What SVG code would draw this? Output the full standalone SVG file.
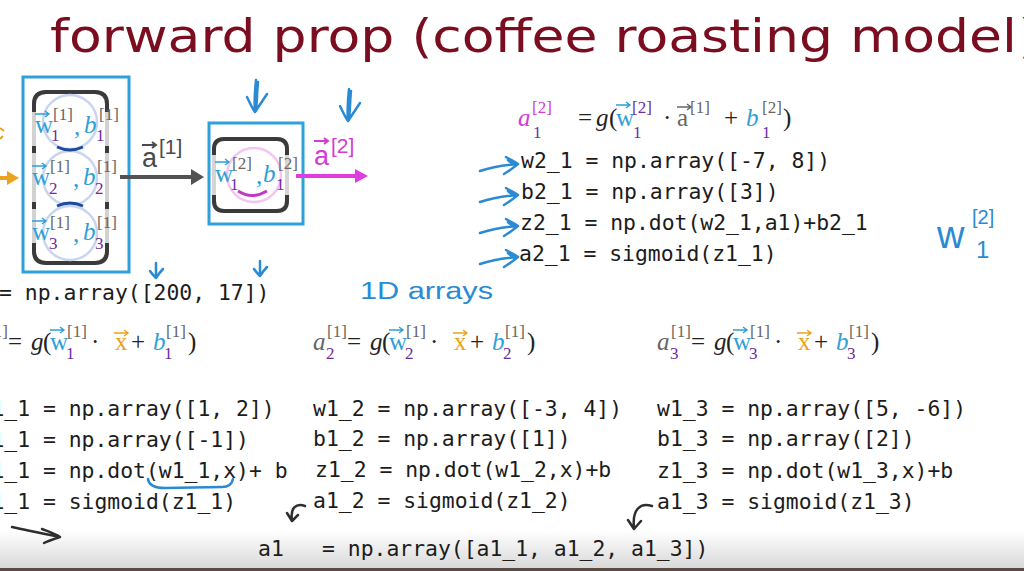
<svg xmlns="http://www.w3.org/2000/svg" xmlns:xlink="http://www.w3.org/1999/xlink" width="1024" height="571" viewBox="0 0 1024 571">
<style>
.code{font-family:"DejaVu Sans Mono","Liberation Mono",monospace;font-size:21.4px;fill:#1c1c1c}
.m{font-family:"Liberation Serif",serif;font-size:25px;fill:#222}
.it{font-style:italic}
.sup{font-family:"Liberation Serif",serif;font-size:17px}
.blue{fill:#2f9fd8}
.purple{fill:#6b2d9e}
.gray{fill:#666}
.mag{fill:#d23cd2}
.orange{fill:#eba21c}
.hand{fill:none;stroke:#2a8ad4;stroke-width:2.5;stroke-linecap:round;stroke-linejoin:round}
.ink{fill:none;stroke:#2e2e2e;stroke-width:2.5;stroke-linecap:round;stroke-linejoin:round}
.box{fill:none;stroke:#2ea0da;stroke-width:3}
.dark{fill:none;stroke:#3a3a3a;stroke-width:4}
.vb{fill:none;stroke:#2f9fd8;stroke-width:1.4}
.vo{fill:none;stroke:#eba21c;stroke-width:1.4}
.vg{fill:none;stroke:#666;stroke-width:1.4}
.vm{fill:none;stroke:#d23cd2;stroke-width:2}
.vd{fill:none;stroke:#4a4a4a;stroke-width:2}
.sans{font-family:"Liberation Sans",sans-serif}
</style>
<defs>
<path id="va" d="M0 0 H14 M10 -3 L14 0 L10 3"/>
<path id="harrow" d="M0 8 C12 4 24 2 38 1 M26 -6 C31 -3 35 -1 38 1 C33 5 29 8 24 11 M28 -3 C31 0 33 1 35 2"/>
<path id="check" d="M9 0 C8 10 7 22 8 32 M11 2 C10 12 10 22 9 31 M0 17 C3 23 5 28 8 32 C12 26 16 20 20 14"/>
<path id="smalldown" d="M8 0 C8 5 8 10 8 15 M2 8 C4 11 6 13 8 15 C10 12 12 9 15 6"/>
<marker id="ah-gray" markerUnits="userSpaceOnUse" markerWidth="13" markerHeight="16" refX="1" refY="8" orient="auto" viewBox="0 0 13 16"><path d="M0 0 L13 8 L0 16 z" fill="#525252"/></marker>
<marker id="ah-mag" markerUnits="userSpaceOnUse" markerWidth="13" markerHeight="14" refX="1" refY="7" orient="auto" viewBox="0 0 13 14"><path d="M0 0 L13 7 L0 14 z" fill="#e03ce0"/></marker>
<marker id="ah-or" markerUnits="userSpaceOnUse" markerWidth="12" markerHeight="14" refX="1" refY="7" orient="auto" viewBox="0 0 12 14"><path d="M0 0 L12 7 L0 14 z" fill="#eba21c"/></marker>
<linearGradient id="band" x1="0" y1="0" x2="0" y2="1"><stop offset="0" stop-color="#ffffff"/><stop offset="1" stop-color="#d6d6d6"/></linearGradient>
</defs>
<rect width="1024" height="571" fill="#ffffff"/>
<rect x="0" y="530" width="1024" height="41" fill="url(#band)"/>
<rect x="0" y="568" width="1024" height="3" fill="#5b4b45"/>

<g id="title">
<text x="50" y="52" font-family="DejaVu Sans, sans-serif" font-size="47" fill="#7a0d1f" textLength="967" lengthAdjust="spacingAndGlyphs">forward prop (coffee roasting model</text>
<text x="1019" y="52" font-family="DejaVu Sans, sans-serif" font-size="47" fill="#7a0d1f">)</text>
</g>

<g id="layer1">
<rect x="23" y="77" width="106" height="195" class="box"/>
<rect x="34" y="92" width="73" height="171" rx="12" fill="none" stroke="#d2d2d2" stroke-width="4"/>
<path class="dark" d="M34 112 V104 Q34 92 46 92 H95 Q107 92 107 104 V112"/>
<path class="dark" d="M34 243 V251 Q34 263 46 263 H95 Q107 263 107 251 V243"/>
<path class="dark" d="M34 146 V153 M107 146 V153 M34 202 V209 M107 202 V209"/>
<circle cx="70" cy="122" r="27" fill="none" stroke="#c9d5ef" stroke-width="2.5"/>
<circle cx="70" cy="178" r="27" fill="none" stroke="#c9d5ef" stroke-width="2.5"/>
<circle cx="70" cy="233" r="27" fill="none" stroke="#c9d5ef" stroke-width="2.5"/>
<path d="M57 147 Q70 153 83 147" fill="none" stroke="#1d4aa0" stroke-width="3"/>
<path d="M57 206 Q70 200 83 206" fill="none" stroke="#1d4aa0" stroke-width="3"/>
<text class="m blue" x="35" y="133">w</text><use href="#va" x="35" y="114" class="vb"/>
<text class="sup gray" x="53" y="120">[1]</text><text class="sup purple" x="51" y="141">1</text>
<text class="m blue" x="74" y="135">,</text><text class="m it blue" x="84" y="133">b</text>
<text class="sup gray" x="99" y="120">[1]</text><text class="sup purple" x="96" y="141">1</text>
<text class="m blue" x="32" y="185">w</text><use href="#va" x="32" y="166" class="vb"/>
<text class="sup gray" x="50" y="172">[1]</text><text class="sup purple" x="49" y="194">2</text>
<text class="m blue" x="73" y="187">,</text><text class="m it blue" x="83" y="185">b</text>
<text class="sup gray" x="97" y="172">[1]</text><text class="sup purple" x="95" y="194">2</text>
<text class="m blue" x="32" y="240">w</text><use href="#va" x="32" y="221" class="vb"/>
<text class="sup gray" x="50" y="228">[1]</text><text class="sup purple" x="49" y="249">3</text>
<text class="m blue" x="73" y="242">,</text><text class="m it blue" x="83" y="240">b</text>
<text class="sup gray" x="97" y="228">[1]</text><text class="sup purple" x="95" y="249">3</text>
</g>

<g id="layer2">
<rect x="209" y="123" width="94" height="101" class="box"/>
<rect x="214" y="139" width="73" height="72" rx="10" fill="none" stroke="#d5d5d5" stroke-width="4"/>
<path class="dark" d="M214 155 V149 Q214 139 224 139 H277 Q287 139 287 149 V155"/>
<path class="dark" d="M214 195 V201 Q214 211 224 211 H277 Q287 211 287 201 V195"/>
<circle cx="254" cy="175" r="27" fill="none" stroke="#f2c6f0" stroke-width="2.5"/>
<path d="M238 191 Q252 200 267 191" fill="none" stroke="#c238c8" stroke-width="3"/>
<text class="m blue" x="215" y="182">w</text><use href="#va" x="215" y="162" class="vb"/>
<text class="sup gray" x="232" y="169">[2]</text><text class="sup purple" x="230" y="190">1</text>
<text class="m blue" x="256" y="184">,</text><text class="m it blue" x="263" y="182">b</text>
<text class="sup gray" x="278" y="169">[2]</text><text class="sup purple" x="276" y="190">1</text>
</g>

<g id="connectors">
<line x1="-2" y1="178" x2="8" y2="178" stroke="#eba21c" stroke-width="4" marker-end="url(#ah-or)"/>
<line x1="120" y1="177" x2="192" y2="177" stroke="#525252" stroke-width="4" marker-end="url(#ah-gray)"/>
<line x1="296" y1="176" x2="356" y2="176" stroke="#e03ce0" stroke-width="4" marker-end="url(#ah-mag)"/>
<text class="sans" x="142" y="167" font-size="27" fill="#4a4a4a">a</text><use href="#va" x="142" y="145" class="vd"/>
<text class="sans" x="159" y="154" font-size="21" fill="#4a4a4a">[1]</text>
<text class="sans" x="314" y="165" font-size="27" fill="#d23cd2">a</text><use href="#va" x="314" y="141" class="vm"/>
<text class="sans" x="331" y="153" font-size="21" fill="#d23cd2">[2]</text>
<path d="M0 128 L4 131 M0 139 L3 136" stroke="#eba21c" stroke-width="2" fill="none"/>
</g>

<g id="annotations">
<use href="#check" x="247" y="80" class="hand"/>
<use href="#check" x="340" y="89" class="hand"/>
<use href="#smalldown" x="148" y="263" class="hand"/>
<use href="#smalldown" x="252" y="261" class="hand"/>
<use href="#harrow" x="480" y="163" class="hand"/>
<use href="#harrow" x="480" y="194" class="hand"/>
<use href="#harrow" x="480" y="225" class="hand"/>
<use href="#harrow" x="480" y="256" class="hand"/>
<path class="hand" d="M148 479 C149 486 155 488 165 488 L222 487 C229 487 232 484 233 479"/>
<text class="sans" x="360" y="299" font-size="23" fill="#2a8ad4" textLength="133" lengthAdjust="spacingAndGlyphs">1D arrays</text>
<text class="sans" x="937" y="248" font-size="38" fill="#2a8ad4">w</text>
<text class="sans" x="976" y="258" font-size="24" fill="#2a8ad4">1</text>
<text class="sans" x="972" y="224" font-size="20" fill="#2a8ad4">[2]</text>
<path class="ink" d="M12 527 C25 530 40 533 60 537 M42 529 C50 532 56 534 60 537 C54 539 48 541 44 543"/>
<path class="ink" d="M305 506 C296 503 290 508 292 520 M287 513 L292 521 L298 515"/>
<path class="ink" d="M652 506 C640 502 632 510 634 528 M628 520 L634 529 L641 521"/>
</g>

<g id="eq-layer2">
<text class="m it mag" x="518" y="126" font-size="26">a</text>
<text class="sup mag" x="532" y="113">[2]</text><text class="sup purple" x="533" y="138">1</text>
<text class="m" x="578" y="126">=</text>
<text class="m it" x="596" y="126">g</text>
<text class="m" x="609" y="126">(</text>
<text class="m blue" x="616" y="126">w</text><use href="#va" x="616" y="105" class="vb"/>
<text class="sup purple" x="632" y="113">[2]</text><text class="sup purple" x="633" y="138">1</text>
<text class="m" x="663" y="126">·</text>
<text class="m gray" x="677" y="126">a</text><use href="#va" x="677" y="107" class="vg"/>
<text class="sup gray" x="690" y="113">[1]</text>
<text class="m" x="724" y="126">+</text>
<text class="m it blue" x="746" y="126">b</text>
<text class="sup gray" x="762" y="113">[2]</text><text class="sup purple" x="762" y="138">1</text>
<text class="m" x="783" y="126">)</text>
</g>

<g id="code-layer2" class="code">
<text x="521" y="168">w2_1 = np.array([-7, 8])</text>
<text x="521" y="199">b2_1 = np.array([3])</text>
<text x="520" y="230">z2_1 = np.dot(w2_1,a1)+b2_1</text>
<text x="519" y="261">a2_1 = sigmoid(z1_1)</text>
</g>

<text class="code" x="-1" y="300">= np.array([200, 17])</text>

<g id="eq-col1" transform="translate(-26,0)">
<text class="m it gray" x="0" y="350">a</text><text class="sup gray" x="14" y="337">[1]</text><text class="sup purple" x="13" y="359">1</text>
<text class="m" x="34" y="350">=</text><text class="m it" x="57" y="350">g</text><text class="m" x="69" y="350">(</text>
<text class="m blue" x="76" y="350">w</text><use href="#va" x="76" y="330" class="vb"/>
<text class="sup gray" x="93" y="337">[1]</text><text class="sup purple" x="92" y="359">1</text>
<text class="m" x="117" y="350">·</text>
<text class="m orange" x="141" y="350">x</text><use href="#va" x="140" y="333" class="vo"/>
<text class="m" x="157" y="350">+</text>
<text class="m it blue" x="179" y="350">b</text><text class="sup gray" x="192" y="337">[1]</text><text class="sup purple" x="190" y="359">1</text>
<text class="m" x="214" y="350">)</text>
</g>
<g id="eq-col2" transform="translate(313,0)">
<text class="m it gray" x="0" y="350">a</text><text class="sup gray" x="14" y="337">[1]</text><text class="sup purple" x="13" y="359">2</text>
<text class="m" x="34" y="350">=</text><text class="m it" x="57" y="350">g</text><text class="m" x="69" y="350">(</text>
<text class="m blue" x="76" y="350">w</text><use href="#va" x="76" y="330" class="vb"/>
<text class="sup gray" x="93" y="337">[1]</text><text class="sup purple" x="92" y="359">2</text>
<text class="m" x="117" y="350">·</text>
<text class="m orange" x="141" y="350">x</text><use href="#va" x="140" y="333" class="vo"/>
<text class="m" x="157" y="350">+</text>
<text class="m it blue" x="179" y="350">b</text><text class="sup gray" x="192" y="337">[1]</text><text class="sup purple" x="190" y="359">2</text>
<text class="m" x="214" y="350">)</text>
</g>
<g id="eq-col3" transform="translate(657,0)">
<text class="m it gray" x="0" y="350">a</text><text class="sup gray" x="14" y="337">[1]</text><text class="sup purple" x="13" y="359">3</text>
<text class="m" x="34" y="350">=</text><text class="m it" x="57" y="350">g</text><text class="m" x="69" y="350">(</text>
<text class="m blue" x="76" y="350">w</text><use href="#va" x="76" y="330" class="vb"/>
<text class="sup gray" x="93" y="337">[1]</text><text class="sup purple" x="92" y="359">3</text>
<text class="m" x="117" y="350">·</text>
<text class="m orange" x="141" y="350">x</text><use href="#va" x="140" y="333" class="vo"/>
<text class="m" x="157" y="350">+</text>
<text class="m it blue" x="179" y="350">b</text><text class="sup gray" x="192" y="337">[1]</text><text class="sup purple" x="190" y="359">3</text>
<text class="m" x="214" y="350">)</text>
</g>

<g id="code-col1" class="code">
<text x="-21.5" y="416">w1_1 = np.array([1, 2])</text>
<text x="-21.5" y="447">b1_1 = np.array([-1])</text>
<text x="-21.5" y="478">z1_1 = np.dot(w1_1,x)+ b</text>
<text x="-21.5" y="509">a1_1 = sigmoid(z1_1)</text>
</g>
<g id="code-col2" class="code">
<text x="313" y="416">w1_2 = np.array([-3, 4])</text>
<text x="313" y="446">b1_2 = np.array([1])</text>
<text x="315" y="477">z1_2 = np.dot(w1_2,x)+b</text>
<text x="313" y="508">a1_2 = sigmoid(z1_2)</text>
</g>
<g id="code-col3" class="code">
<text x="657" y="416">w1_3 = np.array([5, -6])</text>
<text x="657" y="446">b1_3 = np.array([2])</text>
<text x="657" y="478">z1_3 = np.dot(w1_3,x)+b</text>
<text x="657" y="509">a1_3 = sigmoid(z1_3)</text>
</g>
<g id="code-a1" class="code">
<text x="258" y="556">a1</text>
<text x="322" y="556">= np.array([a1_1, a1_2, a1_3])</text>
</g>
</svg>
